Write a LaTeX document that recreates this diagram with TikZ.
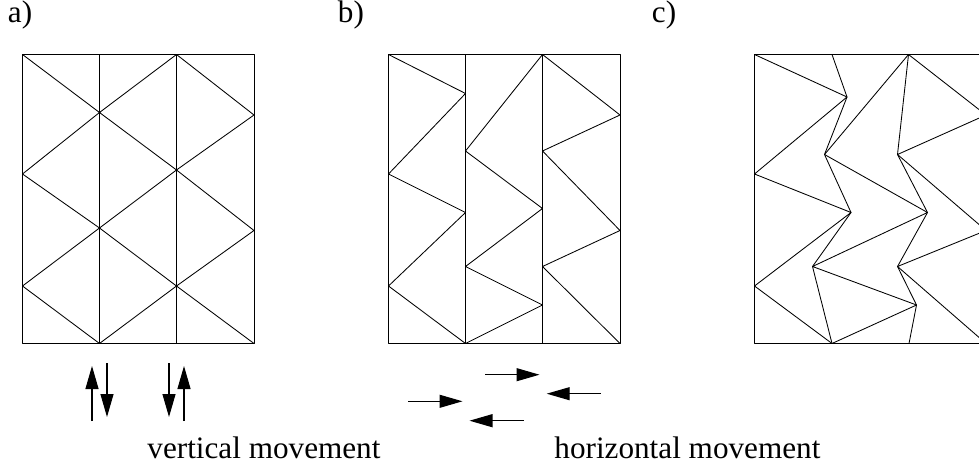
\documentclass[tikz,border=0pt]{standalone}
\usepackage{fontspec}
\setmainfont{Liberation Serif}
\usetikzlibrary{arrows.meta}

\begin{document}
\begin{tikzpicture}[x=1pt, y=-1pt, line width=0.85pt, line join=round,
    caption/.style={anchor=base west, inner sep=0pt, font=\fontsize{31.2}{33}\selectfont},
    movearrow/.style={-{Triangle[length=23pt, width=13pt]}, line width=1.1pt}]
  \useasboundingbox (0,0) rectangle (979,468);
  \clip (0,0) rectangle (979,468);

  % a) vertical movement
  \foreach \name/\x/\y in {l0/22.5/54.5, l1/22.5/174, l2/22.5/286, l3/22.5/343.5,
      m0/99.5/54.5, m1/99.5/112.5, m2/99.5/228, m3/99.5/343.5,
      n0/176.5/54.5, n1/176.5/170, n2/176.5/286, n3/176.5/343.5,
      r0/254/54.5, r1/254/115, r2/254/230.5, r3/254/343.5}
    \coordinate (a\name) at (\x,\y);
  \draw (al0) -- (ar0) -- (ar3) -- (al3) -- cycle;
  \draw (am0) -- (am3) (an0) -- (an3);
  \draw (al0) -- (am1) -- (al1) -- (am2) -- (al2) -- (am3);
  \draw (an0) -- (am1) -- (an1) -- (am2) -- (an2) -- (am3);
  \draw (an0) -- (ar1) -- (an1) -- (ar2) -- (an2) -- (ar3);

  % b) after the horizontal shift
  \foreach \name/\x/\y in {l0/388.5/54.5, l1/388.5/174, l2/388.5/286, l3/388.5/343.5,
      m0/465.5/54.5, m1/465.5/93.5, m2/465.5/151, m3/465.5/212.5, m4/465.5/266.5, m5/465.5/343.5,
      n0/542.5/54.5, n1/542.5/151, n2/542.5/208.5, n3/542.5/266.5, n4/542.5/305, n5/542.5/343.5,
      r0/620/54.5, r1/620/115, r2/620/230.5, r3/620/343.5}
    \coordinate (b\name) at (\x,\y);
  \draw (bl0) -- (br0) -- (br3) -- (bl3) -- cycle;
  \draw (bm0) -- (bm5) (bn0) -- (bn5);
  \draw (bl0) -- (bm1) -- (bl1) -- (bm3) -- (bl2) -- (bm5);
  \draw (bn0) -- (bm2) -- (bn2) -- (bm4) -- (bn4) -- (bm5);
  \draw (bn0) -- (br1) -- (bn1) -- (br2) -- (bn3) -- (br3);

  % c) both together, right side runs off the page
  \foreach \name/\x/\y in {l0/754.5/54.5, l1/754.5/174, l2/754.5/286, l3/754.5/343.5,
      m0/832/54.5, m1/847/97, m2/824.5/154.5, m3/851/212.5, m4/812.5/266.5, m5/832/343.5,
      n0/908.5/54.5, n1/897.5/154.5, n2/927.5/212.5, n3/897.5/266.5, n4/916.5/305, n5/909/343.5,
      r0/986/54.5, r1/986/115, r2/986/230.5, r3/986/343.5}
    \coordinate (c\name) at (\x,\y);
  \draw (cl0) -- (cr0) -- (cr3) -- (cl3) -- cycle;
  \draw (cm0) -- (cm1) -- (cm2) -- (cm3) -- (cm4) -- (cm5);
  \draw (cn0) -- (cn1) -- (cn2) -- (cn3) -- (cn4) -- (cn5);
  \draw (cl0) -- (cm1) -- (cl1) -- (cm3) -- (cl2) -- (cm5);
  \draw (cn0) -- (cm2) -- (cn2) -- (cm4) -- (cn4) -- (cm5);
  \draw (cn0) -- (cr1) -- (cn1) -- (cr2) -- (cn3) -- (cr3);

  % arrows under a)
  \foreach \name/\x/\y in {u1s/92/421, u1e/92/366, d1s/107/363, d1e/107/417,
      d2s/169/363, d2e/169/417, u2s/184/421, u2e/184/366}
    \coordinate (\name) at (\x,\y);
  \draw[movearrow] (u1s) -- (u1e);
  \draw[movearrow] (d1s) -- (d1e);
  \draw[movearrow] (d2s) -- (d2e);
  \draw[movearrow] (u2s) -- (u2e);

  % arrows under b)
  \foreach \name/\x/\y in {h1s/485/374.7, h1e/539.5/374.7, h2s/600.7/393.7, h2e/546.7/393.7,
      h3s/408/401.3, h3e/462.5/401.3, h4s/523.5/420.7, h4e/469.5/420.7}
    \coordinate (\name) at (\x,\y);
  \draw[movearrow] (h1s) -- (h1e);
  \draw[movearrow] (h2s) -- (h2e);
  \draw[movearrow] (h3s) -- (h3e);
  \draw[movearrow] (h4s) -- (h4e);

  \node[caption] (tagA) at (7.5,23) {a)};
  \node[caption] (tagB) at (337.5,23) {b)};
  \node[caption] (tagC) at (651.5,23) {c)};
  \node[caption] (labV) at (147,458) {vertical movement};
  \node[caption] (labH) at (554,458) {horizontal movement};
\end{tikzpicture}
\end{document}
